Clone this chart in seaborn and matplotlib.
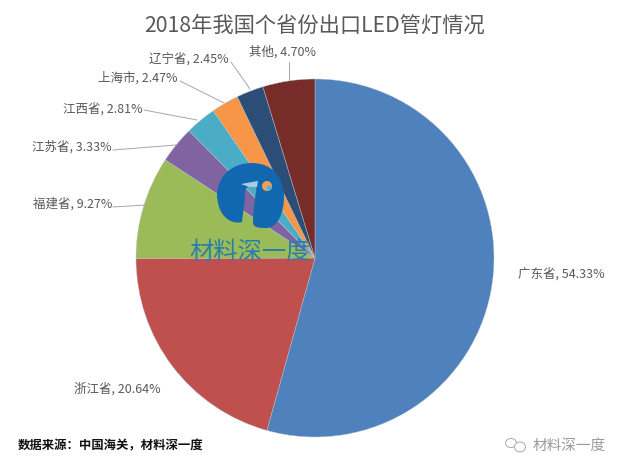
import matplotlib
matplotlib.use("Agg")
import matplotlib.pyplot as plt
from matplotlib.patches import Circle, Ellipse, PathPatch, Polygon
from matplotlib.path import Path
import seaborn as sns

regions = ["广东省", "浙江省", "福建省", "江苏省", "江西省", "上海市", "辽宁省", "其他"]
shares = [54.33, 20.64, 9.27, 3.33, 2.81, 2.47, 2.45, 4.70]
slice_colors = ["#4F81BD", "#C0504D", "#9BBB59", "#8064A2", "#4BACC6", "#F79646", "#2C4D75", "#772C2A"]

title = "2018年我国个省份出口LED管灯情况"
source = "数据来源：中国海关，材料深一度"
brand = "材料深一度"

# label anchors in pixels, (x, y, ha)
label_pos = [
    (518, 274, "left"), (74, 389, "left"), (112, 204, "right"), (112, 147, "right"),
    (143, 109, "right"), (178, 78, "right"), (229, 59, "right"), (316, 52, "right"),
]
# leader lines, label end then slice end
leaders = [
    None, None, ((113, 207), (146, 205)), ((113, 150), (176, 145)),
    ((144, 110), (197, 120)), ((180, 81), (224, 103)), ((231, 62), (250, 89)), ((289, 62), (289, 80)),
]

sns.set_theme(style="white")
plt.rcParams["font.family"] = ["Noto Sans CJK SC", "DejaVu Sans"]

W, H = 630, 473
fig = plt.figure(figsize=(6.3, 4.73), dpi=100, facecolor="white")

# pie fills its own axes, so axes box sets center and radius
cx, cy, r = 315, 258, 179
ax = fig.add_axes([(cx - r) / W, 1 - (cy + r) / H, 2 * r / W, 2 * r / H])
ax.pie(shares, colors=sns.color_palette(slice_colors), startangle=90, counterclock=False,
       radius=1, wedgeprops={"edgecolor": "#B8C4D0", "linewidth": 0.3})
ax.set_xlim(-1, 1)
ax.set_ylim(-1, 1)

# overlay in pixel coordinates for all texts and the logo
ov = fig.add_axes([0, 0, 1, 1], facecolor="none")
ov.set_xlim(0, W)
ov.set_ylim(H, 0)
ov.axis("off")

gray = "#595959"
ov.text(315, 26, title, ha="center", va="center", fontsize=15.3, color=gray)

for name, val, (x, y, ha) in zip(regions, shares, label_pos):
    ov.text(x, y, f"{name}, {val:.2f}%", ha=ha, va="center", fontsize=9, color=gray)
for seg in leaders:
    if seg:
        ov.plot([seg[0][0], seg[1][0]], [seg[0][1], seg[1][1]], color="#A6A6A6", lw=0.7)

# logo
M, C = Path.MOVETO, Path.CURVE4
logo_verts = [
    (217, 196),
    (217, 176), (232, 163), (252, 163),
    (271, 163), (284, 176), (284, 197),
    (284, 212), (278, 228), (266, 228),
    (260, 228), (253, 228), (253, 222),
    (253, 208), (256, 195), (257, 182),
    (252, 184), (246, 186), (245, 192),
    (245, 202), (243, 212), (242, 222),
    (236, 224), (219, 222), (217, 196),
]
logo_codes = [M] + [C] * (len(logo_verts) - 1)
ov.add_patch(PathPatch(Path(logo_verts, logo_codes), facecolor="#1268B0", edgecolor="none"))
ov.add_patch(Polygon([(241, 184), (258, 181), (257, 187), (249, 187)], facecolor="#A9CBE6", edgecolor="none"))
ov.add_patch(Circle((267, 186), 5, facecolor="#F0A050", edgecolor="none"))
ov.add_patch(Circle((269, 188), 2.5, facecolor="#5BAFCF", edgecolor="none"))
ov.text(250, 252, brand, ha="center", va="center", fontsize=17.5, color="#2A7FA8", fontweight="light")

# footer
ov.text(18, 446, source, ha="left", va="center", fontsize=8.9, fontweight="bold", color="#111111")
ov.text(533, 446, brand, ha="left", va="center", fontsize=10.5, color="#9A9A9A")
ov.add_patch(Ellipse((511, 443), 11, 9, facecolor="none", edgecolor="#A8A8A8", lw=0.7))
ov.add_patch(Ellipse((520, 447), 11, 10, facecolor="white", edgecolor="#A8A8A8", lw=0.7))

fig.savefig("out.png", dpi=100, facecolor="white")
